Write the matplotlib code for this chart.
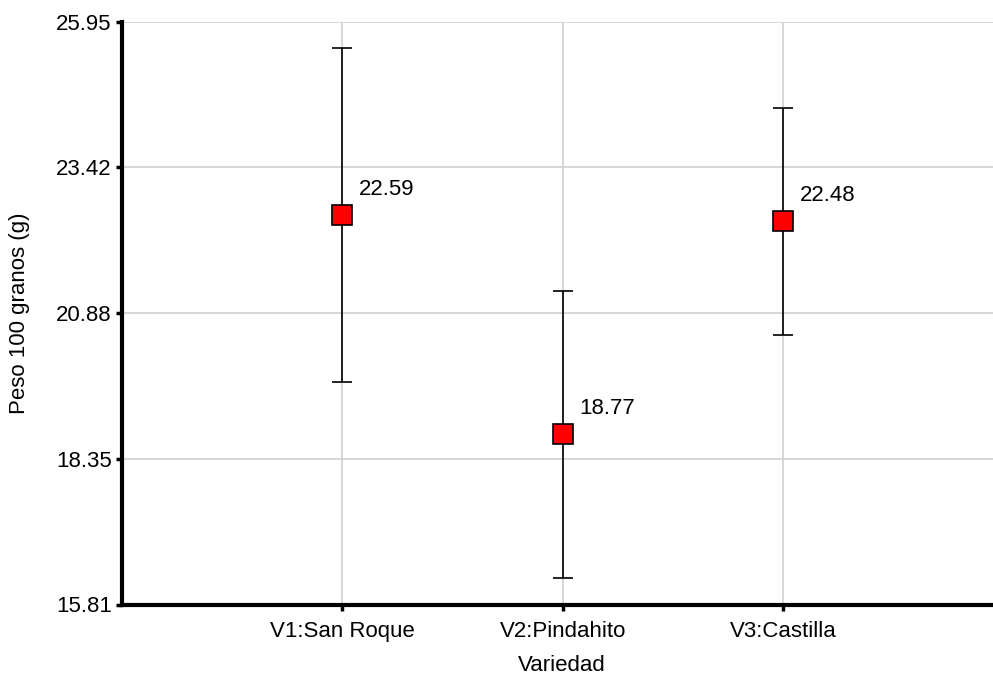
import matplotlib.pyplot as plt
import numpy as np

# Peso de 100 granos por variedad (media +/- intervalo)
variedades = ['V1:San Roque', 'V2:Pindahito', 'V3:Castilla']
medias = [22.59, 18.77, 22.48]
errores = [2.90, 2.50, 1.97]
yticks = [15.81, 18.35, 20.88, 23.42, 25.95]

plt.rcParams['font.family'] = ['Liberation Sans', 'DejaVu Sans']

fig = plt.figure(figsize=(9.93, 6.77), dpi=100)
ax = fig.add_axes([121.5 / 993, 1 - 604.5 / 677, 1 - 121.5 / 993, (604.5 - 22) / 677])

x = np.arange(1, len(variedades) + 1)
ax.errorbar(x, medias, yerr=errores, fmt='none', ecolor='black',
            elinewidth=1.2, capsize=7, capthick=1.2, zorder=3)
ax.plot(x, medias, 's', markersize=14.5, markerfacecolor='#ff0000',
        markeredgecolor='black', markeredgewidth=1.2, zorder=4)

for xi, m in zip(x, medias):
    ax.annotate(f'{m:.2f}', (xi, m), xytext=(12, 11), textcoords='offset points',
                fontsize=16, ha='left', va='bottom')

ax.set_xlim(0, 3.95)
ax.set_ylim(yticks[0], yticks[-1])
ax.set_xticks(x)
ax.set_xticklabels(variedades, fontsize=16)
ax.set_yticks(yticks)
ax.set_yticklabels([f'{t:.2f}' for t in yticks], fontsize=16)
ax.tick_params(axis='both', direction='out', length=4, width=2.5, pad=3)
ax.tick_params(axis='x', pad=8)

ax.grid(True, color='#d4d4d4', linewidth=1.3)
ax.set_axisbelow(True)
for s in ['top', 'right']:
    ax.spines[s].set_visible(False)
for s in ['left', 'bottom']:
    ax.spines[s].set_linewidth(3)

ax.set_xlabel('Variedad', fontsize=16)
ax.set_ylabel('Peso 100 granos (g)', fontsize=16)
ax.xaxis.set_label_coords(0.505, -0.104, transform=ax.transAxes)
ax.yaxis.set_label_coords(-0.1165, 0.5, transform=ax.transAxes)
ax.xaxis.label.set_va('center')
ax.yaxis.label.set_va('center')

fig.savefig('out.png', dpi=100)
